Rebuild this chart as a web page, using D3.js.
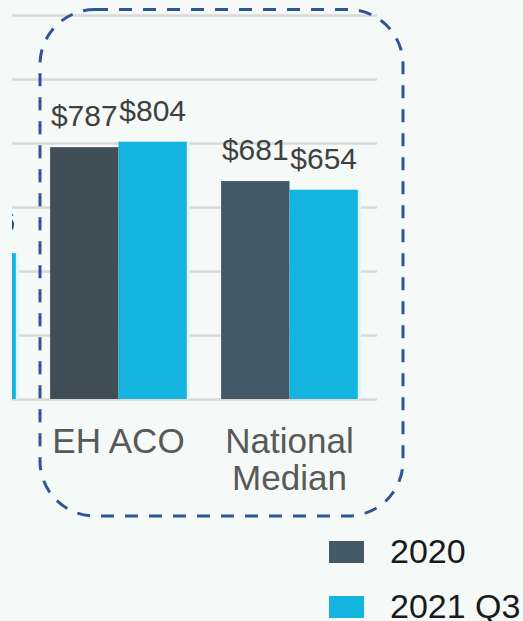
<!DOCTYPE html>
<html>
<head>
<meta charset="utf-8">
<script src="https://cdn.jsdelivr.net/npm/d3@7"></script>
<style>
  html, body { margin: 0; padding: 0; background: #f5f9f7; }
  svg { display: block; }
  text { font-family: "Liberation Sans", Arial, sans-serif; }
</style>
</head>
<body>
<script>
// Cost per beneficiary, grouped by entity, one bar per period
const categories = ["", "EH ACO", "National Median"];
const categoryLines = [[""], ["EH ACO"], ["National", "Median"]];
const series = ["2020", "2021 Q3"];
const values2020 = [null, 787, 681];
const values2021Q3 = [456, 804, 654];
const valueLabels2020 = [null, "$787", "$681"];
const valueLabels2021Q3 = ["$456", "$804", "$654"];
const yTicks = [0, 200, 400, 600, 800, 1000, 1200];

const W = 523, H = 621;
const seriesValues = [values2020, values2021Q3];
const seriesLabels = [valueLabels2020, valueLabels2021Q3];
const seriesColors = ["#435968", "#13b5e0"];
const focusDark = "#404f57";

const svg = d3.select("body").append("svg")
  .attr("width", W).attr("height", H);

svg.append("rect").attr("width", W).attr("height", H).attr("fill", "#f5f9f7");

// plot area is cut on the left edge
svg.append("clipPath").attr("id", "plotClip")
  .append("rect").attr("x", 12).attr("y", 0).attr("width", W - 12).attr("height", H);

const plot = svg.append("g").attr("clip-path", "url(#plotClip)");

const x = d3.scaleBand().domain(categories)
  .range([-138, 375]).paddingInner(0.2).paddingOuter(0.1);
const xs = d3.scaleBand().domain(series).range([0, x.bandwidth()]).padding(0);
const y = d3.scaleLinear().domain([0, 1200]).range([399, 15]);

// horizontal gridlines
const gridAxis = d3.axisLeft(y).tickValues(yTicks).tickSize(-(377 - 12)).tickFormat("");
const grid = plot.append("g").attr("transform", "translate(377,0)")
  .attr("transform", "translate(12,0)")
  .call(gridAxis);
grid.select(".domain").remove();
grid.selectAll(".tick line")
  .attr("x1", 0).attr("x2", 377 - 12)
  .attr("stroke", "#d9d9d9").attr("stroke-width", 2.5);

// bars
const barData = [];
categories.forEach((c, i) => {
  series.forEach((s, j) => {
    const v = seriesValues[j][i];
    if (v !== null) barData.push({ c, s, i, j, v, label: seriesLabels[j][i] });
  });
});

plot.selectAll("rect.bar").data(barData).enter().append("rect")
  .attr("class", "bar")
  .attr("x", d => x(d.c) + xs(d.s))
  .attr("width", xs.bandwidth())
  .attr("y", d => y(d.v))
  .attr("height", d => y(0) - y(d.v))
  .attr("fill", d => (d.j === 0 && d.c === "EH ACO") ? focusDark : seriesColors[d.j]);

// soft edge to the right of each group
plot.selectAll("rect.edge").data(barData.filter(d => d.j === 1)).enter().append("rect")
  .attr("x", d => x(d.c) + xs(d.s) + xs.bandwidth())
  .attr("width", 3)
  .attr("y", d => y(d.v))
  .attr("height", d => y(0) - y(d.v))
  .attr("fill", "#e6f3f4");

// value labels
plot.selectAll("text.val").data(barData).enter().append("text")
  .attr("x", d => x(d.c) + xs(d.s) + xs.bandwidth() / 2)
  .attr("y", d => y(d.v) - 21)
  .attr("text-anchor", "middle")
  .attr("font-size", 30)
  .attr("fill", "#404040")
  .text(d => d.label);

// category labels
categories.forEach((c, i) => {
  const t = plot.append("text")
    .attr("x", x(c) + x.bandwidth() / 2)
    .attr("y", 453)
    .attr("text-anchor", "middle")
    .attr("font-size", 35)
    .attr("fill", "#595959");
  categoryLines[i].forEach((line, k) => {
    t.append("tspan").attr("x", x(c) + x.bandwidth() / 2)
      .attr("dy", k === 0 ? 0 : 37).text(line);
  });
});

// dashed highlight around both groups
svg.append("rect")
  .attr("x", 40).attr("y", 9.5)
  .attr("width", 403 - 40).attr("height", 516 - 9.5)
  .attr("rx", 55).attr("ry", 55)
  .attr("fill", "none")
  .attr("stroke", "#2e5597")
  .attr("stroke-width", 3)
  .attr("stroke-dasharray", "13 11");

// legend
const legend = svg.append("g");
series.forEach((s, j) => {
  const g = legend.append("g").attr("transform", `translate(329,${541 + j * 55})`);
  g.append("rect").attr("width", 35).attr("height", 22).attr("fill", seriesColors[j]);
  g.append("text").attr("x", 61).attr("y", 22)
    .attr("font-size", 34).attr("fill", "#1a1a1a").text(s);
});
</script>
</body>
</html>
